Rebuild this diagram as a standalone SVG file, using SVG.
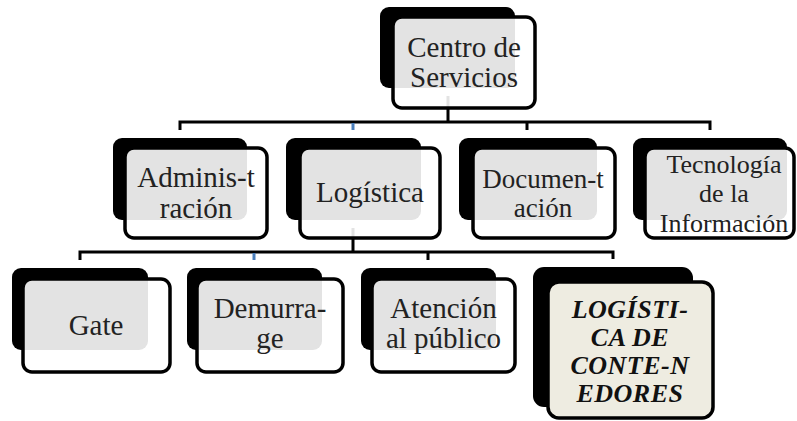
<svg xmlns="http://www.w3.org/2000/svg" width="797" height="421" viewBox="0 0 797 421">
<style>
.sh{fill:#000}
.fr{fill:#fff;fill-opacity:0.89;stroke:#000;stroke-width:3.5}
.fb{fill:#eeece1;stroke:#000;stroke-width:3.5}
.t{font-family:"Liberation Serif","Times New Roman",serif;fill:#222;text-anchor:middle}
.bi{font-weight:bold;font-style:italic;fill:#111}
.c{fill:none;stroke:#000;stroke-width:3}
.cb{fill:none;stroke:#4a7ebb;stroke-width:3}
</style>
<rect width="797" height="421" fill="#fff"/>
<g id="connectors">
<path class="c" d="M448 96V122M180 130V122H710V130M527 122V130"/>
<path class="cb" d="M353 123V130"/>
<path class="c" d="M353 228V252M80 260V252H613V259M428 252V260"/>
<path class="cb" d="M254 253V260"/>
</g>
<g id="centro">
<rect class="sh" x="380" y="7" width="135" height="81" rx="9"/>
<rect class="fr" x="393" y="17" width="142" height="91" rx="9"/>
<text class="t" font-size="29"><tspan x="464" y="57">Centro de</tspan><tspan x="464" y="87">Servicios</tspan></text>
</g>
<g id="administracion">
<rect class="sh" x="113" y="138" width="134" height="82" rx="9"/>
<rect class="fr" x="125" y="148" width="142" height="90" rx="9"/>
<text class="t" font-size="29"><tspan x="196" y="187">Adminis-t</tspan><tspan x="196" y="218">ración</tspan></text>
</g>
<g id="logistica">
<rect class="sh" x="286" y="138" width="135" height="82" rx="9"/>
<rect class="fr" x="300" y="148" width="140" height="90" rx="9"/>
<text class="t" font-size="29" x="370" y="202">Logística</text>
</g>
<g id="documentacion">
<rect class="sh" x="459" y="138" width="138" height="82" rx="9"/>
<rect class="fr" x="473" y="148" width="142" height="90" rx="9"/>
<text class="t" font-size="27"><tspan x="543" y="188">Documen-t</tspan><tspan x="543" y="217">ación</tspan></text>
</g>
<g id="tecnologia">
<rect class="sh" x="633" y="138" width="154" height="82" rx="9"/>
<rect class="fr" x="645" y="148" width="149" height="90" rx="9"/>
<text class="t" font-size="26"><tspan x="724" y="173">Tecnología</tspan><tspan x="724" y="202">de la</tspan><tspan x="724" y="232">Información</tspan></text>
</g>
<g id="gate">
<rect class="sh" x="12" y="268" width="136" height="82" rx="9"/>
<rect class="fr" x="23" y="279" width="147" height="93" rx="9"/>
<text class="t" font-size="29" x="96" y="335">Gate</text>
</g>
<g id="demurrage">
<rect class="sh" x="187" y="268" width="135" height="82" rx="9"/>
<rect class="fr" x="197" y="279" width="146" height="93" rx="9"/>
<text class="t" font-size="29"><tspan x="270" y="318">Demurra-</tspan><tspan x="270" y="348">ge</tspan></text>
</g>
<g id="atencion">
<rect class="sh" x="361" y="268" width="135" height="82" rx="9"/>
<rect class="fr" x="372" y="279" width="143" height="93" rx="9"/>
<text class="t" font-size="29"><tspan x="443.5" y="318">Atención</tspan><tspan x="443.5" y="348">al público</tspan></text>
</g>
<g id="contenedores">
<rect class="sh" x="533" y="267" width="160" height="140" rx="11"/>
<rect class="fb" x="548" y="282" width="165" height="136" rx="11"/>
<text class="t bi" font-size="26" letter-spacing="0.5"><tspan x="630" y="318">LOGÍSTI-</tspan><tspan x="630" y="346">CA DE</tspan><tspan x="630" y="374">CONTE-N</tspan><tspan x="630" y="402">EDORES</tspan></text>
</g>
</svg>
